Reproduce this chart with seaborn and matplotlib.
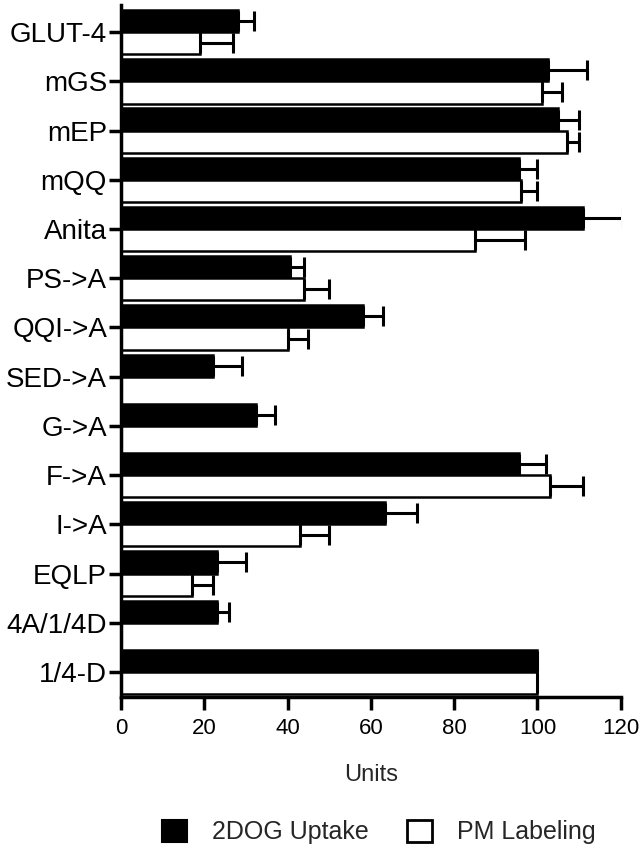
import numpy as np
import pandas as pd
import seaborn as sns
import matplotlib.pyplot as plt
from matplotlib.patches import Patch

constructs = ['GLUT-4', 'mGS', 'mEP', 'mQQ', 'Anita', 'PS->A', 'QQI->A',
              'SED->A', 'G->A', 'F->A', 'I->A', 'EQLP', '4A/1/4D', '1/4-D']
uptake = [28, 102.5, 105, 95.5, 111, 40.5, 58, 22, 32.5, 95.5, 63.5, 23, 23, 100]
uptake_err = [4, 9.5, 5, 4.5, 9.5, 3.5, 5, 7, 4.5, 6.5, 7.5, 7, 3, np.nan]
labeling = [19, 101, 107, 96, 85, 44, 40, 0, 0, 103, 43, 17, 0, 100]
labeling_err = [8, 5, 3, 4, 12, 6, 5, np.nan, np.nan, 8, 7, 5, np.nan, np.nan]
series = ['2DOG Uptake', 'PM Labeling']

df = pd.DataFrame({
    'construct': constructs * 2,
    'value': uptake + labeling,
    'series': [series[0]] * len(constructs) + [series[1]] * len(constructs),
})

sns.set_style('ticks')
plt.rcParams['font.family'] = ['Liberation Sans', 'DejaVu Sans']

fig = plt.figure(figsize=(6.4, 8.48), dpi=100)
ax = fig.add_axes([0.189, 0.178, 0.781, 0.816])

sns.barplot(data=df, x='value', y='construct', hue='series', orient='h',
            palette={series[0]: 'black', series[1]: 'white'},
            edgecolor='black', linewidth=1.8, width=0.9, ax=ax, legend=False)

# one-sided error bars (to the right)
pos = np.arange(len(constructs))
for vals, errs, off in [(uptake, uptake_err, -0.225), (labeling, labeling_err, 0.225)]:
    errs = np.array(errs, dtype=float)
    ax.errorbar(vals, pos + off, xerr=[np.zeros_like(errs), errs], fmt='none',
                ecolor='black', elinewidth=2.2, capsize=7.5, capthick=2.2)

ax.set_xlim(0, 120)
ax.set_ylim(13.51, -0.55)
ax.set_xticks(range(0, 121, 20))
ax.set_xlabel('Units', fontsize=17, labelpad=18)
ax.set_ylabel('')
ax.tick_params(axis='y', labelsize=20, width=2.5, length=9, pad=1, colors='black')
ax.tick_params(axis='x', labelsize=16, width=2.5, length=9, pad=6, colors='black')
for s in ['top', 'right']:
    ax.spines[s].set_visible(False)
for s in ['left', 'bottom']:
    ax.spines[s].set_linewidth(2.5)
    ax.spines[s].set_color('black')

handles = [Patch(facecolor='black', edgecolor='black', linewidth=1.5),
           Patch(facecolor='white', edgecolor='black', linewidth=2)]
fig.legend(handles, series, loc='center', bbox_to_anchor=(0.592, 0.019), ncol=2,
           frameon=False, fontsize=18, handlelength=1.0, handleheight=1.0,
           handletextpad=1.0, columnspacing=1.5, borderpad=0.2)

fig.savefig('out.png', dpi=100)
